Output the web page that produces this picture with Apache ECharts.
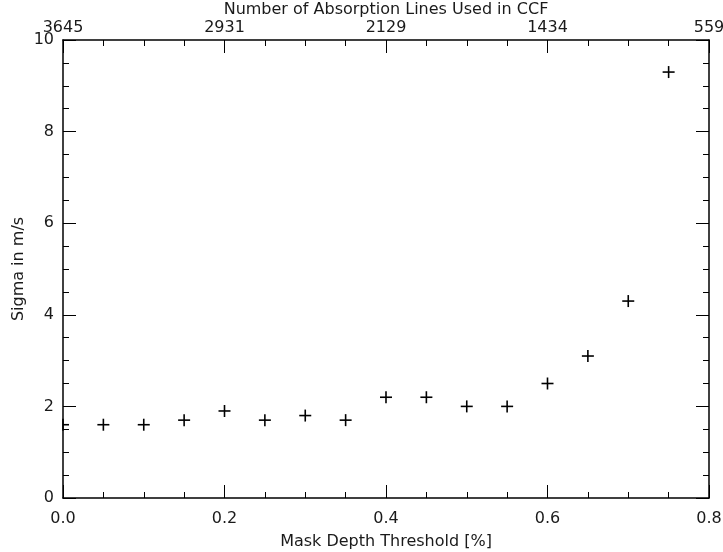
<!DOCTYPE html>
<html>
<head>
<meta charset="utf-8">
<script src="https://cdn.jsdelivr.net/npm/echarts@6/dist/echarts.min.js"></script>
<style>
  html, body { margin: 0; padding: 0; background: #fff; }
  #chart { width: 723px; height: 552px; }
</style>
</head>
<body>
<div id="chart"></div>
<script>
// Mask depth threshold (fraction) and the resulting RV scatter (m/s)
const thresholds = [0.00, 0.05, 0.10, 0.15, 0.20, 0.25, 0.30, 0.35,
                    0.40, 0.45, 0.50, 0.55, 0.60, 0.65, 0.70, 0.75];
const sigmaValues = [1.6, 1.6, 1.6, 1.7, 1.9, 1.7, 1.8, 1.7,
                     2.2, 2.2, 2.0, 2.0, 2.5, 3.1, 4.3, 9.3];

// Top axis: number of absorption lines at each major threshold tick
const topTickPositions = [0.0, 0.2, 0.4, 0.6, 0.8];
const topTickLabels = ['3645', '2931', '2129', '1434', '559'];

const FONT = 'DejaVu Sans';
const FS = 16;
const INK = '#000';
const TEXT = '#1a1a1a';

const axisLine = { show: true, onZero: false, lineStyle: { color: INK, width: 1.5 } };
const axisTick = { show: true, inside: true, length: 13, lineStyle: { color: INK, width: 1 } };
const minorTick = { show: true, splitNumber: 4, length: 6, lineStyle: { color: INK, width: 1 } };

function topLabel(v) {
  for (let i = 0; i < topTickPositions.length; i++) {
    if (Math.abs(v - topTickPositions[i]) < 1e-6) return topTickLabels[i];
  }
  return '';
}

const data = thresholds.map((x, i) => [x, sigmaValues[i]]);

// Plus-sign markers, trimmed to the plot frame
function renderPlus(params, api) {
  const p = api.coord([api.value(0), api.value(1)]);
  const cs = params.coordSys;
  const h = 6;
  const x0 = Math.max(p[0] - h, cs.x), x1 = Math.min(p[0] + h, cs.x + cs.width);
  const y0 = Math.max(p[1] - h, cs.y), y1 = Math.min(p[1] + h, cs.y + cs.height);
  const style = { stroke: INK, lineWidth: 1.6 };
  return {
    type: 'group',
    children: [
      { type: 'line', shape: { x1: x0, y1: p[1], x2: x1, y2: p[1] }, style },
      { type: 'line', shape: { x1: p[0], y1: y0, x2: p[0], y2: y1 }, style }
    ]
  };
}

const chart = echarts.init(document.getElementById('chart'), null, { renderer: 'canvas' });
chart.setOption({
  backgroundColor: '#fff',
  animation: false,
  grid: { left: 63, right: 14, top: 40, bottom: 54, outerBoundsMode: 'none', containLabel: false },
  xAxis: [
    {
      type: 'value', position: 'bottom', min: 0, max: 0.8, interval: 0.2,
      name: 'Mask Depth Threshold [%]', nameLocation: 'middle', nameGap: 36,
      nameMoveOverlap: false,
      nameTextStyle: { fontFamily: FONT, fontSize: FS, color: TEXT },
      axisLine, axisTick, minorTick,
      axisLabel: { fontFamily: FONT, fontSize: FS, color: TEXT, margin: 13,
                   formatter: v => v.toFixed(1) },
      splitLine: { show: false }
    },
    {
      type: 'value', position: 'top', min: 0, max: 0.8, interval: 0.2,
      name: 'Number of Absorption Lines Used in CCF', nameLocation: 'middle', nameGap: 22,
      nameMoveOverlap: false,
      nameTextStyle: { fontFamily: FONT, fontSize: FS, color: TEXT },
      axisLine, axisTick, minorTick,
      axisLabel: { fontFamily: FONT, fontSize: FS, color: TEXT, margin: 4,
                   formatter: topLabel },
      splitLine: { show: false }
    }
  ],
  yAxis: [
    {
      type: 'value', position: 'left', min: 0, max: 10, interval: 2,
      name: 'Sigma in m/s', nameLocation: 'middle', nameGap: 36,
      nameMoveOverlap: false,
      nameTextStyle: { fontFamily: FONT, fontSize: FS, color: TEXT },
      axisLine, axisTick, minorTick,
      axisLabel: { fontFamily: FONT, fontSize: FS, color: TEXT, margin: 9 },
      splitLine: { show: false }
    },
    {
      type: 'value', position: 'right', min: 0, max: 10, interval: 2,
      axisLine, axisTick, minorTick,
      axisLabel: { show: false },
      splitLine: { show: false }
    }
  ],
  series: [{
    type: 'custom',
    xAxisIndex: 0, yAxisIndex: 0,
    data,
    renderItem: renderPlus,
    clip: false,
    z: 5
  }]
});
</script>
</body>
</html>
